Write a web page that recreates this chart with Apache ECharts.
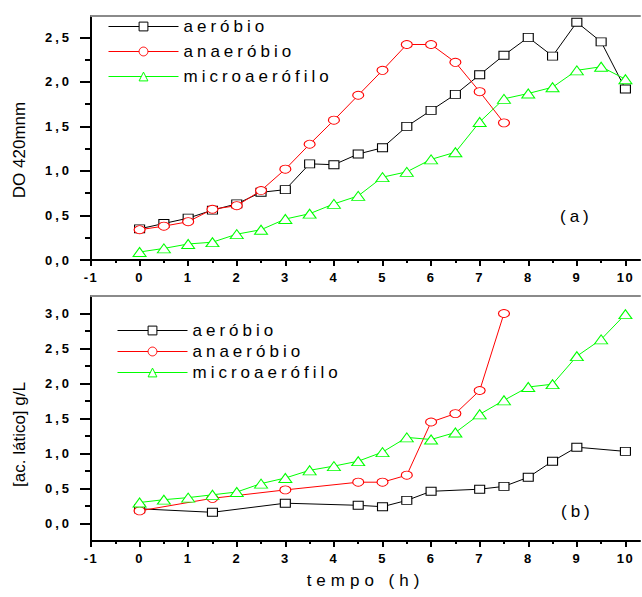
<!DOCTYPE html>
<html>
<head>
<meta charset="utf-8">
<script src="https://cdn.jsdelivr.net/npm/echarts@6/dist/echarts.min.js"></script>
<style>
html,body{margin:0;padding:0;background:#fff;}
#chart{width:642px;height:597px;}
</style>
</head>
<body>
<div id="chart"></div>
<script>
// ---------- data ----------
const seriesNames = ['aeróbio', 'anaeróbio', 'microaerófilo'];
const seriesColors = ['#000000', '#ff0000', '#00ff00'];

// panel (a): DO 420mnm
const topX = [0,0.5,1,1.5,2,2.5,3,3.5,4,4.5,5,5.5,6,6.5,7,7.5,8,8.5,9,9.5,10];
const topAerobio = [0.35,0.41,0.47,0.56,0.63,0.76,0.79,1.08,1.07,1.19,1.26,1.50,1.68,1.86,2.08,2.30,2.50,2.29,2.67,2.45,1.92];
const topAnaerobioX = [0,0.5,1,1.5,2,2.5,3,3.5,4,4.5,5,5.5,6,6.5,7,7.5];
const topAnaerobio = [0.34,0.38,0.43,0.57,0.61,0.78,1.02,1.30,1.57,1.85,2.13,2.42,2.42,2.22,1.89,1.54];
const topMicro = [0.09,0.13,0.18,0.20,0.29,0.34,0.46,0.52,0.63,0.72,0.93,0.99,1.13,1.21,1.55,1.81,1.87,1.94,2.13,2.17,2.03];

// panel (b): [ac. lático] g/L
const botAerobioX = [0,1.5,3,4.5,5,5.5,6,7,7.5,8,8.5,9,10];
const botAerobio = [0.21,0.16,0.29,0.26,0.24,0.33,0.46,0.49,0.53,0.66,0.89,1.09,1.03];
const botAnaerobioX = [0,1.5,3,4.5,5,5.5,6,6.5,7,7.5];
const botAnaerobio = [0.18,0.36,0.48,0.59,0.59,0.69,1.45,1.57,1.90,3.00];
const botMicroX = [0,0.5,1,1.5,2,2.5,3,3.5,4,4.5,5,5.5,6,6.5,7,7.5,8,8.5,9,9.5,10];
const botMicro = [0.30,0.34,0.37,0.41,0.45,0.57,0.65,0.76,0.82,0.89,1.02,1.23,1.20,1.30,1.56,1.76,1.95,1.99,2.39,2.63,2.99];

// ticks
const xTicks = [-1,0,1,2,3,4,5,6,7,8,9,10];
const xMinorTicks = [-0.5,0.5,1.5,2.5,3.5,4.5,5.5,6.5,7.5,8.5,9.5];
const yTopTicks = [0,0.5,1,1.5,2,2.5];
const yTopMinorTicks = [0.25,0.75,1.25,1.75,2.25];
const yBotTicks = [0,0.5,1,1.5,2,2.5,3];
const yBotMinorTicks = [0.25,0.75,1.25,1.75,2.25,2.75];

const xTitle = 'tempo (h)';
const yTopTitle = 'DO 420mnm';
const yBotTitle = '[ac. lático] g/L';
const panelLabels = ['(a)', '(b)'];

// ---------- chart ----------
const FONT = '"Liberation Sans", Arial, sans-serif';
const zip = (xs, ys) => xs.map((x, i) => [x, ys[i]]);
const comma = v => v.toFixed(1).replace('.', ',');

function xAxes(gi, withName) {
  return [
    {
      gridIndex: gi, type: 'value', min: -1, max: 10.3, position: 'bottom',
      axisLine: {show: true, onZero: false, lineStyle: {color: '#000', width: 2}},
      axisTick: {show: true, customValues: xTicks, length: 6, lineStyle: {color: '#000', width: 2}},
      axisLabel: {show: true, customValues: xTicks, margin: 11, formatter: v => String(v),
        color: '#000', fontFamily: FONT, fontWeight: 'bold', fontSize: 13},
      splitLine: {show: false},
      name: withName ? xTitle : '', nameLocation: 'middle', nameGap: 31,
      nameTextStyle: {color: '#000', fontFamily: FONT, fontSize: 17}
    },
    {
      gridIndex: gi, type: 'value', min: -1, max: 10.3, position: 'bottom',
      axisLine: {show: false, onZero: false},
      axisTick: {show: true, customValues: xMinorTicks, length: 3, lineStyle: {color: '#000', width: 2}},
      axisLabel: {show: false}, splitLine: {show: false}
    },
    {
      gridIndex: gi, type: 'value', min: -1, max: 10.3, position: 'top',
      axisLine: {show: true, onZero: false, lineStyle: {color: '#8a8a8a', width: 2}},
      axisTick: {show: false}, axisLabel: {show: false}, splitLine: {show: false}
    }
  ];
}

function yAxes(gi, min, max, ticks, minor, title, pad) {
  return [
    {
      gridIndex: gi, type: 'value', min: min, max: max, position: 'left',
      axisLine: {show: true, onZero: false, lineStyle: {color: '#000', width: 2}},
      axisTick: {show: true, customValues: ticks, length: 11, lineStyle: {color: '#000', width: 2}},
      axisLabel: {show: true, customValues: ticks, margin: 19, formatter: comma,
        color: '#000', fontFamily: FONT, fontWeight: 'bold', fontSize: 13},
      splitLine: {show: false},
      name: title, nameLocation: 'middle', nameGap: 63,
      nameTextStyle: {color: '#000', fontFamily: FONT, fontSize: 17, padding: pad}
    },
    {
      gridIndex: gi, type: 'value', min: min, max: max, position: 'left',
      axisLine: {show: false, onZero: false},
      axisTick: {show: true, customValues: minor, length: 6, lineStyle: {color: '#000', width: 2}},
      axisLabel: {show: false}, splitLine: {show: false}
    }
  ];
}

const symbols = ['rect', 'circle', 'triangle'];
const symbolSizes = [[10, 8], [11, 8], [13, 9]];

function mkSeries(i, xi, yi, data) {
  return {
    type: 'line', name: seriesNames[i], xAxisIndex: xi, yAxisIndex: yi,
    data: data, symbol: symbols[i], symbolSize: symbolSizes[i], showSymbol: true,
    lineStyle: {color: seriesColors[i], width: 1},
    itemStyle: {color: '#ffffff', borderColor: seriesColors[i], borderWidth: 1},
    emphasis: {disabled: true}, z: 2 + i
  };
}

const legendCommon = {
  orient: 'vertical', itemWidth: 70, itemHeight: 11, selectedMode: false, padding: 0,
  itemStyle: {borderWidth: 1},
  lineStyle: {width: 1},
  textStyle: {color: '#000', fontFamily: FONT, fontSize: 17},
  data: seriesNames
};

const option = {
  animation: false,
  backgroundColor: '#ffffff',
  grid: [
    {left: 91, top: 16, width: 549, height: 244},
    {left: 91, top: 296, width: 549, height: 245}
  ],
  legend: [
    Object.assign({left: 108, top: 18, itemGap: 8}, legendCommon),
    Object.assign({left: 117, top: 322, itemGap: 4}, legendCommon)
  ],
  xAxis: xAxes(0, false).concat(xAxes(1, true)),
  yAxis: yAxes(0, 0, 2.74, yTopTicks, yTopMinorTicks, yTopTitle, [0, 24, 0, 0])
    .concat(yAxes(1, -0.25, 3.25, yBotTicks, yBotMinorTicks, yBotTitle, [0, 32, 0, 0])),
  series: [
    mkSeries(0, 0, 0, zip(topX, topAerobio)),
    mkSeries(1, 0, 0, zip(topAnaerobioX, topAnaerobio)),
    mkSeries(2, 0, 0, zip(topX, topMicro)),
    mkSeries(0, 3, 2, zip(botAerobioX, botAerobio)),
    mkSeries(1, 3, 2, zip(botAnaerobioX, botAnaerobio)),
    mkSeries(2, 3, 2, zip(botMicroX, botMicro))
  ],
  graphic: [
    {type: 'text', left: 560, top: 208, style: {text: panelLabels[0], fill: '#000', font: '17px ' + FONT}},
    {type: 'text', left: 561, top: 503, style: {text: panelLabels[1], fill: '#000', font: '17px ' + FONT}}
  ]
};

const chart = echarts.init(document.getElementById('chart'), null, {renderer: 'svg'});
chart.setOption(option);

// Origin-style wide letter spacing on the texts
function spaceOut() {
  const texts = document.querySelectorAll('#chart text');
  texts.forEach(t => {
    const s = t.textContent;
    let ls = 0;
    if (seriesNames.indexOf(s) >= 0 || panelLabels.indexOf(s) >= 0) ls = 4;
    else if (s === xTitle) ls = 5;
    else if (s.indexOf(',') >= 0) ls = 3;
    else if (/^-?\d+$/.test(s)) ls = 1.5;
    if (ls) t.setAttribute('letter-spacing', ls + 'px');
  });
}
spaceOut();
chart.on('finished', spaceOut);
</script>
</body>
</html>
